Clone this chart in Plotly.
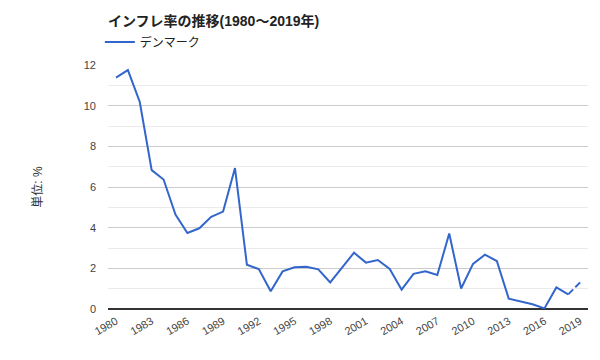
import plotly.graph_objects as go

years = list(range(1980, 2020))
inflation = [11.38, 11.75, 10.18, 6.83, 6.37, 4.64, 3.74, 3.97, 4.53, 4.79,
             6.93, 2.18, 1.96, 0.87, 1.85, 2.05, 2.08, 1.95, 1.31, 2.05,
             2.77, 2.28, 2.41, 1.97, 0.95, 1.73, 1.85, 1.67, 3.71, 1.01,
             2.22, 2.67, 2.36, 0.51, 0.37, 0.23, 0.03, 1.06, 0.72, 1.31]
tick_years = list(range(1980, 2020, 3))
tick_labels = [str(y) for y in tick_years]
series_name = "デンマーク"
title_text = "インフレ率の推移(1980〜2019年)"
y_title = "単位: %"

FONT = "Arial, 'Liberation Sans', 'Noto Sans CJK JP', sans-serif"
COLOR = "#3366cc"

fig = go.Figure()
# solid part (all but the final estimate segment)
fig.add_trace(go.Scatter(x=years[:-1], y=inflation[:-1], mode="lines", name=series_name,
                         line=dict(color=COLOR, width=2), hoverinfo="x+y"))
# last segment dashed
fig.add_trace(go.Scatter(x=years[-2:], y=inflation[-2:], mode="lines", showlegend=False,
                         line=dict(color=COLOR, width=2, dash="7px,3px"), hoverinfo="x+y"))

fig.update_layout(
    width=600, height=360,
    margin=dict(l=100, r=20, t=57, b=59),
    paper_bgcolor="white", plot_bgcolor="white",
    font=dict(family=FONT, size=12, color="#444"),
    title=dict(text="<b>" + title_text + "</b>", xref="paper", x=0, xanchor="left",
               yref="container", y=1 - 13 / 360, yanchor="middle",
               font=dict(family=FONT, size=14, color="#222")),
    legend=dict(orientation="h", x=-0.017, xanchor="left", y=1 + 23 / 244, yanchor="middle",
                font=dict(family=FONT, size=12, color="#222"), itemwidth=30,
                bgcolor="rgba(0,0,0,0)"),
    showlegend=True,
)
fig.update_xaxes(range=[1979.33, 2019.66], tickmode="array", tickvals=tick_years,
                 ticktext=tick_labels, tickangle=-30, showgrid=False, zeroline=False,
                 showline=False, ticks="", automargin=False, ticklabelstandoff=3,
                 tickfont=dict(size=11, color="#444"))
fig.update_yaxes(range=[0, 12], tickmode="array", tickvals=[0, 2, 4, 6, 8, 10, 12],
                 showgrid=True, gridcolor="#cccccc", gridwidth=1, zeroline=True,
                 zerolinecolor="#333333", zerolinewidth=1.5, ticks="", ticklabelstandoff=11,
                 automargin=False, tickfont=dict(size=11, color="#444"),
                 minor=dict(tickvals=[1, 3, 5, 7, 9, 11], showgrid=True, gridcolor="#ebebeb",
                            gridwidth=1),
                 title=dict(text=y_title, standoff=38, font=dict(size=12, color="#333")))

fig.write_html("out.html")
